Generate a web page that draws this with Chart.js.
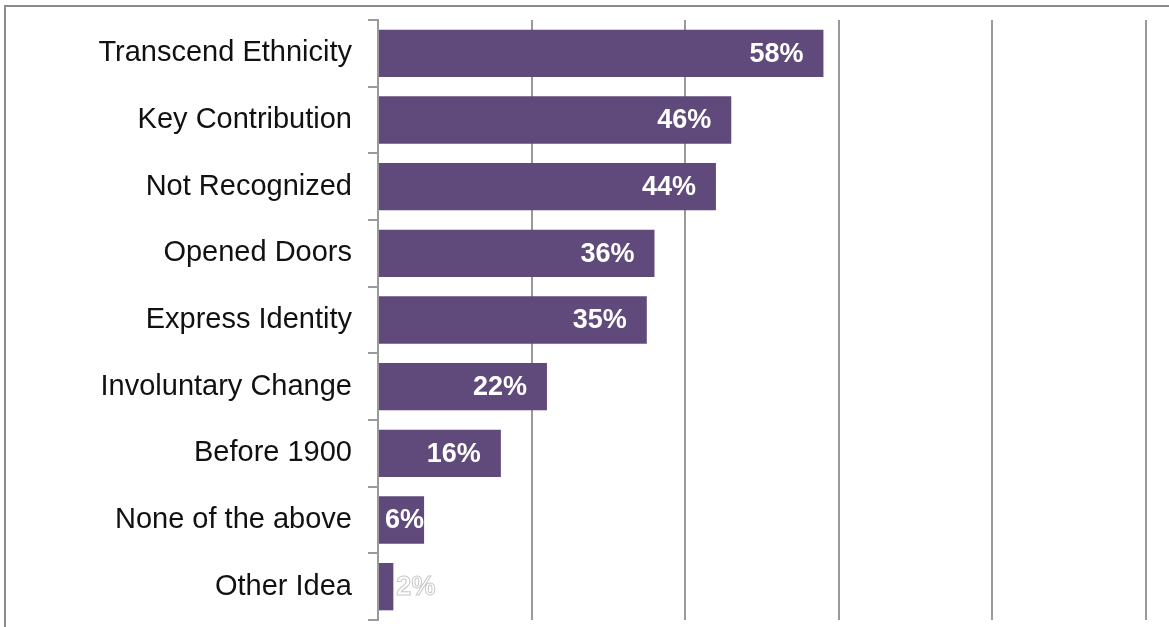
<!DOCTYPE html>
<html>
<head>
<meta charset="utf-8">
<script src="https://cdn.jsdelivr.net/npm/chart.js@4/dist/chart.umd.min.js"></script>
<style>
  html, body { margin: 0; padding: 0; background: #fff; }
  #wrap { position: relative; width: 1169px; height: 627px; }
</style>
</head>
<body>
<div id="wrap"><canvas id="c"></canvas></div>
<script>
const categories = [
  "Transcend Ethnicity",
  "Key Contribution",
  "Not Recognized",
  "Opened Doors",
  "Express Identity",
  "Involuntary Change",
  "Before 1900",
  "None of the above",
  "Other Idea"
];
const percentValues = [58, 46, 44, 36, 35, 22, 16, 6, 2];
const axisMin = 0;
const axisMax = 100;
const axisStep = 20;

const barColor = "#604A7B";
const gridColor = "#9a9a9a";

const frame = {
  id: "frame",
  beforeDraw(chart) {
    const ctx = chart.ctx;
    ctx.save();
    ctx.strokeStyle = "#8c8c8c";
    ctx.lineWidth = 2;
    ctx.beginPath();
    ctx.moveTo(5, 627);
    ctx.lineTo(5, 6);
    ctx.lineTo(1169, 6);
    ctx.stroke();
    ctx.restore();
  }
};

const valueLabels = {
  id: "valueLabels",
  afterDatasetsDraw(chart) {
    const ctx = chart.ctx;
    const meta = chart.getDatasetMeta(0);
    ctx.save();
    ctx.font = "bold 27px 'Liberation Sans', Arial, sans-serif";
    ctx.textBaseline = "middle";
    ctx.textAlign = "left";
    meta.data.forEach((bar, i) => {
      const txt = percentValues[i] + "%";
      const w = ctx.measureText(txt).width;
      const end = bar.x;
      const start = bar.base;
      const y = bar.y + 1;
      if (end - start < w + 4) {
        const x = end + 3;
        ctx.lineWidth = 1;
        ctx.strokeStyle = "#c8c8c8";
        ctx.fillStyle = "#ffffff";
        ctx.fillText(txt, x, y);
        ctx.strokeText(txt, x, y);
      } else {
        const right = Math.max(end - 20, Math.min(end, start + 8 + w));
        ctx.fillStyle = "#ffffff";
        ctx.fillText(txt, right - w, y);
      }
    });
    ctx.restore();
  }
};

new Chart(document.getElementById("c"), {
  type: "bar",
  data: {
    labels: categories,
    datasets: [{
      data: percentValues,
      backgroundColor: barColor,
      borderWidth: 0,
      barPercentage: 1.0,
      categoryPercentage: 0.71
    }]
  },
  options: {
    indexAxis: "y",
    responsive: true,
    maintainAspectRatio: false,
    animation: false,
    layout: { padding: { top: 20, bottom: 7, right: 23, left: 0 } },
    plugins: {
      legend: { display: false },
      tooltip: { enabled: false }
    },
    scales: {
      x: {
        min: axisMin,
        max: axisMax,
        ticks: { display: false, stepSize: axisStep },
        grid: { color: gridColor, lineWidth: 2, drawTicks: false },
        border: { display: false },
        afterFit(scale) { scale.height = 0; scale.paddingLeft = 0; scale.paddingRight = 0; }
      },
      y: {
        ticks: {
          color: "#111",
          padding: 16,
          font: { family: "'Liberation Sans', Arial, sans-serif", size: 29 }
        },
        grid: {
          drawOnChartArea: false,
          drawTicks: true,
          tickLength: 10,
          color: gridColor,
          lineWidth: 2,
          offset: true
        },
        border: { display: true, color: gridColor, width: 2 },
        afterFit(scale) { scale.width = 378; scale.paddingTop = 0; scale.paddingBottom = 0; }
      }
    }
  },
  plugins: [frame, valueLabels]
});
</script>
</body>
</html>
